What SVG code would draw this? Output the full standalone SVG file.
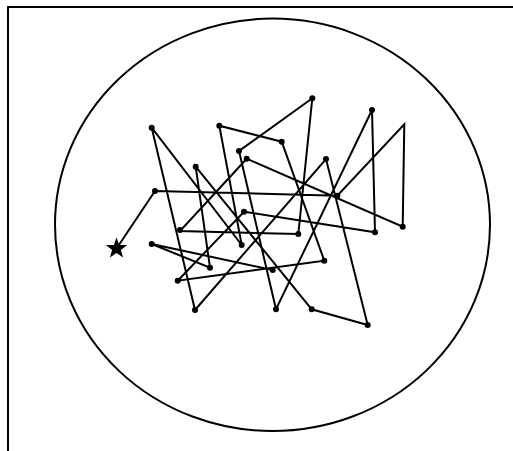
<svg xmlns="http://www.w3.org/2000/svg" width="513" height="451" viewBox="0 0 513 451">
<style>
.frame{fill:none;stroke:#000;stroke-width:2}
.ring{fill:none;stroke:#000;stroke-width:2}
.walk{fill:none;stroke:#000;stroke-width:2;stroke-linejoin:miter;stroke-linecap:round}
.dot{fill:#000}
.star{fill:#000}
</style>
<rect width="513" height="451" fill="#fff"/>
<path class="frame" d="M8,451 V7 H513"/>
<ellipse class="ring" cx="272.5" cy="224.8" rx="217.5" ry="206.2"/>
<g id="connectors">
<polyline class="walk" points="116.7,248.3 155,191 337.3,195.7 404.3,124.3 402.7,226.7 246.7,158.7 180,231 298.3,234 312.3,98.3 239,151 276,309.3 372,110 375,232.3 244,211.7 177.7,280.7 324.3,260.7 281.7,141.7 219.3,125.7 241.7,245 151.7,127.7 195,310 326,159 367.7,325 311.7,309.3 195.7,166.7 210,267.7 151.7,244 272.7,270"/>
</g>
<g id="start"><polygon class="star" points="116.5,237.5 119.2,245 127.2,245.1 120.9,249.9 123.1,257.5 116.5,253 109.9,257.5 112.1,249.9 105.8,245.1 113.8,245"/></g>
<g id="p2"><circle class="dot" cx="155" cy="191" r="3"/></g>
<g id="p3"><circle class="dot" cx="337.3" cy="195.7" r="3"/></g>
<g id="p14"><circle class="dot" cx="402.7" cy="226.7" r="3"/></g>
<g id="p9"><circle class="dot" cx="246.7" cy="158.7" r="3"/></g>
<g id="p17"><circle class="dot" cx="180" cy="230" r="3"/></g>
<g id="p18"><circle class="dot" cx="298.3" cy="234" r="3"/></g>
<g id="p7"><circle class="dot" cx="312.3" cy="98.3" r="3"/></g>
<g id="p8"><circle class="dot" cx="239" cy="151" r="3"/></g>
<g id="p26"><circle class="dot" cx="276" cy="309.3" r="3"/></g>
<g id="p12"><circle class="dot" cx="372" cy="110" r="3"/></g>
<g id="p15"><circle class="dot" cx="375" cy="232.3" r="3"/></g>
<g id="p16"><circle class="dot" cx="244" cy="211.7" r="3"/></g>
<g id="p24"><circle class="dot" cx="177.7" cy="280.7" r="3"/></g>
<g id="p22"><circle class="dot" cx="324.3" cy="260.7" r="3"/></g>
<g id="p6"><circle class="dot" cx="281.7" cy="141.7" r="3"/></g>
<g id="p5"><circle class="dot" cx="219.3" cy="125.7" r="3"/></g>
<g id="p20"><circle class="dot" cx="241.7" cy="245" r="3"/></g>
<g id="p4"><circle class="dot" cx="151.7" cy="127.7" r="3"/></g>
<g id="p25"><circle class="dot" cx="195" cy="310" r="3"/></g>
<g id="p11"><circle class="dot" cx="326" cy="159" r="3"/></g>
<g id="p28"><circle class="dot" cx="367.7" cy="325" r="3"/></g>
<g id="p27"><circle class="dot" cx="311.7" cy="309.3" r="3"/></g>
<g id="p10"><circle class="dot" cx="195.7" cy="166.7" r="3"/></g>
<g id="p21"><circle class="dot" cx="210" cy="267.7" r="3"/></g>
<g id="p19"><circle class="dot" cx="151.7" cy="244" r="3"/></g>
<g id="p23"><circle class="dot" cx="272.7" cy="270" r="3"/></g>
</svg>
